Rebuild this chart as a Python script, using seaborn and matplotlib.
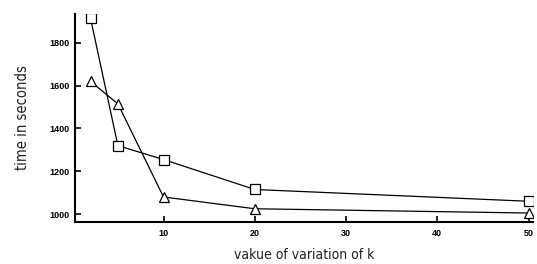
import matplotlib
matplotlib.use("Agg")
import matplotlib.pyplot as plt
import seaborn as sns
import pandas as pd

k_values = [2, 5, 10, 20, 50]
series_square = [1915, 1320, 1255, 1115, 1060]
series_triangle = [1620, 1515, 1080, 1025, 1005]
x_ticks = [10, 20, 30, 40, 50]
y_ticks = [1000, 1200, 1400, 1600, 1800]

sns.set_style("ticks")
plt.rcParams['font.family'] = ['Liberation Sans', 'DejaVu Sans']

df = pd.concat([
    pd.DataFrame({"k": k_values, "time": series_square, "method": "square"}),
    pd.DataFrame({"k": k_values, "time": series_triangle, "method": "triangle"}),
])

fig = plt.figure(figsize=(5.37, 2.64), dpi=100)
ax = fig.add_axes([0.1397, 0.159, 0.853, 0.788])

sns.lineplot(data=df, x="k", y="time", style="method", markers={"square": "s", "triangle": "^"},
             dashes=False, color="black", linewidth=0.9, markersize=6.5,
             markerfacecolor="white", markeredgecolor="black", markeredgewidth=0.9,
             legend=False, ax=ax)

ax.set_xlim(0.3, 50.5)
ax.set_ylim(963, 1935)
ax.set_xticks(x_ticks)
ax.set_yticks(y_ticks)
ax.tick_params(direction="in", length=4, width=1.2, labelsize=6.5, colors="black")
for lbl in ax.get_xticklabels() + ax.get_yticklabels():
    lbl.set_fontweight("bold")
ax.tick_params(axis="x", pad=5)
ax.tick_params(axis="y", pad=4)
sns.despine(ax=ax)
for s in ["left", "bottom"]:
    ax.spines[s].set_linewidth(1.5)
    ax.spines[s].set_color("black")

ax.set_xlabel("vakue of variation of k", fontsize=10, family="DejaVu Sans", fontstretch="condensed",
              labelpad=7, color="#222222")
ax.set_ylabel("time in seconds", fontsize=10.5, family="DejaVu Sans", fontstretch="condensed",
              labelpad=14, color="#222222")

fig.savefig("out.png", dpi=100)
